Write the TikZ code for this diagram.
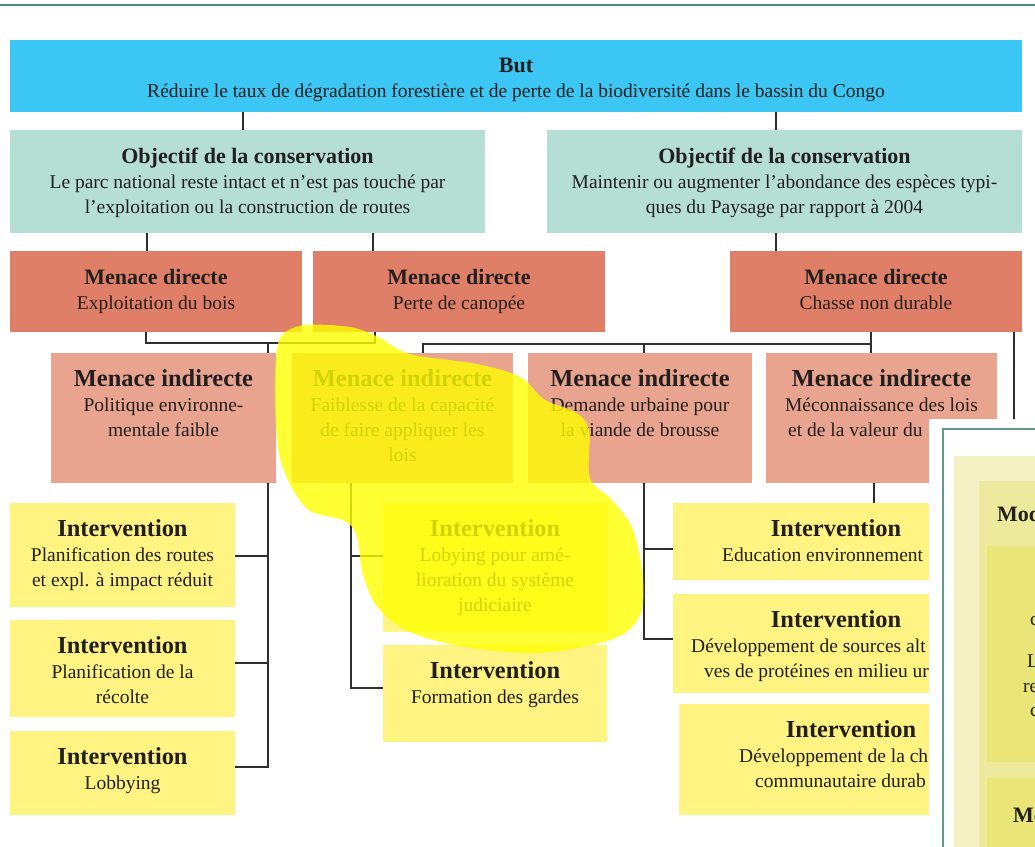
\documentclass[tikz,border=0pt]{standalone}
\usepackage{fontspec}
\setmainfont{Liberation Serif}
\definecolor{butc}{HTML}{3CC6F3}
\definecolor{objc}{HTML}{B5DED4}
\definecolor{mdc}{HTML}{E07F67}
\definecolor{mic}{HTML}{E8A48E}
\definecolor{ivc}{HTML}{FFF382}
\definecolor{linec}{HTML}{2E2E2E}
\definecolor{txtc}{HTML}{231F20}
\definecolor{topc}{HTML}{4F8C78}
\definecolor{winc}{HTML}{5E9C8C}
\definecolor{pana}{HTML}{F3F0C4}
\definecolor{panb}{HTML}{EDEA9E}
\definecolor{panc}{HTML}{E9E677}
\definecolor{hlc}{HTML}{FFFF00}
\newcommand\ttlA[1]{{\fontsize{22}{25}\selectfont\bfseries\rule{0pt}{20pt}#1}}
\newcommand\ttlB[1]{{\fontsize{24.4}{25}\selectfont\bfseries\rule{0pt}{20pt}#1}}
\tikzset{
  box/.style={rectangle, inner sep=0pt, outer sep=0pt, anchor=north west},
  butbox/.style={box, fill=butc},
  objbox/.style={box, fill=objc},
  mdbox/.style={box, fill=mdc},
  mibox/.style={box, fill=mic},
  ivbox/.style={box, fill=ivc},
  txt/.style={anchor=north, inner sep=0pt, align=center, text=txtc, font=\fontsize{19.5}{25}\selectfont},
  frag/.style={anchor=base west, inner sep=0pt, text=txtc, font=\fontsize{19.5}{25}\selectfont},
  fragb/.style={anchor=base west, inner sep=0pt, text=txtc, font=\fontsize{22}{25}\selectfont\bfseries},
  conn/.style={draw=linec, line width=1.8pt},
}
\begin{document}
\begin{tikzpicture}[x=1pt, y=-1pt]
\useasboundingbox (0,0) rectangle (1035,846);
\clip (0,0) rectangle (1035,846);
\fill[white] (0,0) rectangle (1035,846);
\draw[topc, line width=2pt] (0,5) -- (1035,5);

% ---------- boxes ----------
\node[butbox, minimum width=1012pt, minimum height=72pt] (but) at (10,40) {};
\node[objbox, minimum width=475pt, minimum height=103pt] (obj1) at (10,130) {};
\node[objbox, minimum width=475pt, minimum height=103pt] (obj2) at (547,130) {};
\node[mdbox, minimum width=292pt, minimum height=81pt] (md1) at (10,251) {};
\node[mdbox, minimum width=292pt, minimum height=81pt] (md2) at (313,251) {};
\node[mdbox, minimum width=292pt, minimum height=81pt] (md3) at (730,251) {};
\node[mibox, minimum width=225pt, minimum height=130pt] (mi1) at (51,353) {};
\node[mibox, minimum width=221pt, minimum height=130pt] (mi2) at (292,353) {};
\node[mibox, minimum width=224pt, minimum height=130pt] (mi3) at (528,353) {};
\node[mibox, minimum width=231pt, minimum height=130pt] (mi4) at (766,353) {};
\node[ivbox, minimum width=225pt, minimum height=104pt] (i1) at (10,503) {};
\node[ivbox, minimum width=225pt, minimum height=97pt] (i2) at (10,620) {};
\node[ivbox, minimum width=225pt, minimum height=84pt] (i3) at (10,731) {};
\node[ivbox, minimum width=224pt, minimum height=129pt] (ilob) at (383,503) {};
\node[ivbox, minimum width=224pt, minimum height=97pt] (iform) at (383,645) {};
\node[ivbox, minimum width=326pt, minimum height=77pt] (iedu) at (673,503) {};
\node[ivbox, minimum width=326pt, minimum height=99pt] (idev) at (673,594) {};
\node[ivbox, minimum width=344pt, minimum height=111pt] (ichas) at (679,704) {};

% ---------- texts ----------
\node[txt] (tbut) at (516,52) {\ttlA{But}\\R\'eduire le taux de d\'egradation foresti\`ere et de perte de la biodiversit\'e dans le bassin du Congo};
\node[txt] (tobj1) at (247.5,143.5) {\ttlA{Objectif de la conservation}\\Le parc national reste intact et n’est pas touch\'e par\\l’exploitation ou la construction de routes};
\node[txt] (tobj2) at (784.5,143.5) {\ttlA{Objectif de la conservation}\\Maintenir ou augmenter l’abondance des esp\`eces typi-\\ques du Paysage par rapport \`a 2004};
\node[txt] (tmd1) at (156,264.5) {\ttlA{Menace directe}\\Exploitation du bois};
\node[txt] (tmd2) at (459,264.5) {\ttlA{Menace directe}\\Perte de canop\'ee};
\node[txt] (tmd3) at (876,264.5) {\ttlA{Menace directe}\\Chasse non durable};
\node[txt] (tmi1) at (163.5,366.5) {\ttlB{Menace indirecte}\\Politique environne-\\mentale faible};
\node[txt] (tmi2) at (402.5,366.5) {\ttlB{Menace indirecte}\\Faiblesse de la capacit\'e\\de faire appliquer les\\lois};
\node[txt] (tmi3) at (640,366.5) {\ttlB{Menace indirecte}\\Demande urbaine pour\\la viande de brousse};
\node[txt] (tmi4) at (881.5,366.5) {\ttlB{Menace indirecte}\\M\'econnaissance des lois};
\node[frag] (tmi4b) at (788,436.5) {et de la valeur du};
\node[txt] (ti1) at (122.5,516.5) {\ttlB{Intervention}\\Planification des routes\\et expl. \`a impact r\'eduit};
\node[txt] (ti2) at (122.5,633.5) {\ttlB{Intervention}\\Planification de la\\r\'ecolte};
\node[txt] (ti3) at (122.5,744.5) {\ttlB{Intervention}\\Lobbying};
\node[txt] (tilob) at (495,516.5) {\ttlB{Intervention}\\Lobying pour am\'e-\\lioration du syst\`eme\\judiciaire};
\node[txt] (tiform) at (495,658.5) {\ttlB{Intervention}\\Formation des gardes};
\node[txt] (tiedu) at (836,516.5) {\ttlB{Intervention}};
\node[frag] (tiedub) at (722,561.5) {Education environnement};
\node[txt] (tidev) at (836,607.5) {\ttlB{Intervention}};
\node[frag] (tidevb) at (691,652.5) {D\'eveloppement de sources alt};
\node[frag] (tidevc) at (704,677.5) {ves de prot\'eines en milieu ur};
\node[txt] (tich) at (851,717.5) {\ttlB{Intervention}};
\node[frag] (tichb) at (739,762.5) {D\'eveloppement de la ch};
\node[frag] (tichc) at (755,787.5) {communautaire durab};

% ---------- connectors ----------
\foreach \x in {146,147,243,268,351,373,375,423,644,776,871,874,1014} {\coordinate (c\x) at (\x,0);}
\foreach \y in {343,344,549,556,639,663,688,767} {\coordinate (y\y) at (0,\y);}
\coordinate (mdend) at (1014,430);
\draw[conn] (but.south -| c243) -- (obj1.north -| c243);
\draw[conn] (but.south -| c776) -- (obj2.north -| c776);
\draw[conn] (obj1.south -| c147) -- (md1.north -| c147);
\draw[conn] (obj1.south -| c373) -- (md2.north -| c373);
\draw[conn] (obj2.south -| c776) -- (md3.north -| c776);
\draw[conn] (md1.south -| c146) -- (c146 |- y343) -- (c375 |- y343) -- (md2.south -| c375);
\draw[conn] (c268 |- y343) -- (mi1.north -| c268);
\draw[conn] (mi2.north -| c423) -- (c423 |- y344) -- (c871 |- y344);
\draw[conn] (md3.south -| c871) -- (mi4.north -| c871);
\draw[conn] (c644 |- y344) -- (mi3.north -| c644);
\draw[conn] (md3.south -| c1014) -- (mdend);
\draw[conn] (mi1.south -| c268) -- (c268 |- y767) -- (i3.east |- y767);
\draw[conn] (c268 |- y556) -- (i1.east |- y556);
\draw[conn] (c268 |- y663) -- (i2.east |- y663);
\draw[conn] (mi2.south -| c351) -- (c351 |- y688) -- (iform.west |- y688);
\draw[conn] (c351 |- y556) -- (ilob.west |- y556);
\draw[conn] (mi3.south -| c644) -- (c644 |- y639) -- (idev.west |- y639);
\draw[conn] (c644 |- y549) -- (iedu.west |- y549);
\draw[conn] (mi4.south -| c874) -- (iedu.north -| c874);

% ---------- highlighter ----------
\fill[hlc, opacity=0.8] plot[smooth cycle, tension=0.55] coordinates {
 (283,334) (305,325) (350,327) (378,337) (410,354) (477,364) (520,377) (545,400)
 (575,412) (589,430) (590,478) (612,500) (633,530) (643,580) (640,615) (620,636)
 (577,648) (527,653) (460,646) (410,632) (378,608) (363,575) (357,537) (345,521)
 (310,511) (292,488) (280,458) (276,425) (275,382) (277,350)};

% ---------- overlapping window ----------
\fill[white] (929,419) rectangle (1040,850);
\draw[winc, line width=2pt] (943,850) -- (943,429) -- (1040,429);
\fill[pana] (954,456) rectangle (1040,850);
\fill[panb] (979,481) rectangle (1040,850);
\node[box, fill=panc, minimum width=60pt, minimum height=216pt] (wbox1) at (987,546) {};
\node[box, fill=panc, minimum width=60pt, minimum height=80pt] (wbox2) at (987,778) {};
\node[fragb] (wt1) at (997,521) {Mod};
\node[frag] (wt2) at (1030,625) {c};
\node[frag] (wt3) at (1027,667) {L};
\node[frag] (wt4) at (1023,692) {re};
\node[frag] (wt5) at (1030,716) {c};
\node[fragb] (wt6) at (1013,822) {Mo};
\end{tikzpicture}
\end{document}
